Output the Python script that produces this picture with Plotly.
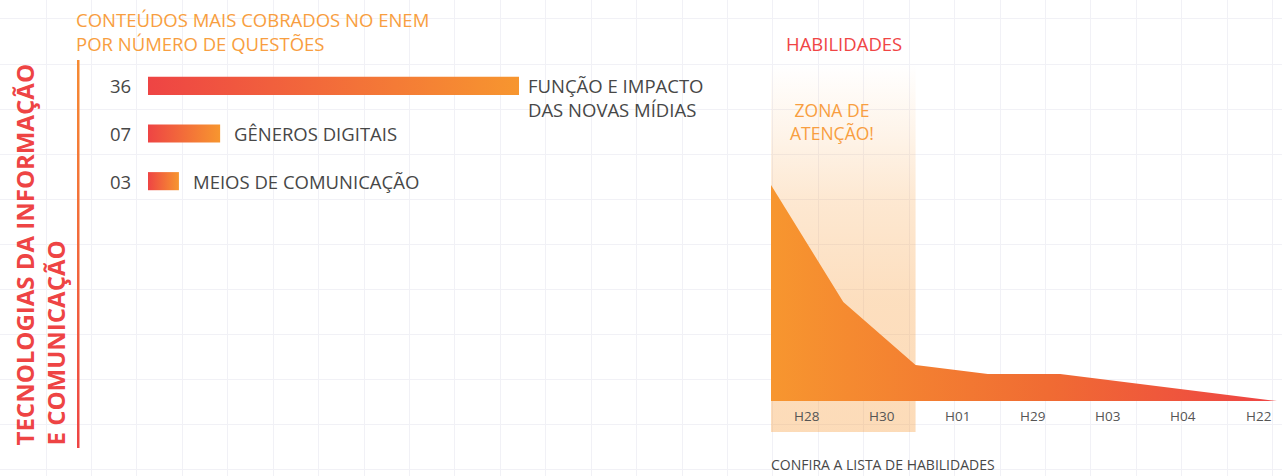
import plotly.graph_objects as go
import numpy as np

W, H = 1282, 476

# ---------------- data ----------------
conteudos = ["FUNÇÃO E IMPACTO<br>DAS NOVAS MÍDIAS", "GÊNEROS DIGITAIS", "MEIOS DE COMUNICAÇÃO"]
questoes = [36, 7, 3]
questoes_txt = ["36", "07", "03"]

habilidades = ["H28", "H30", "H01", "H29", "H03", "H04", "H22"]
perfil_habilidades = [24, 11, 4, 3, 3, 2, 1, 0]   # area profile (last point closes at zero)
zona_atencao = ["H28", "H30"]

titulo = "CONTEÚDOS MAIS COBRADOS NO ENEM<br>POR NÚMERO DE QUESTÕES"
area_titulo = "<b>TECNOLOGIAS DA INFORMAÇÃO</b><br><b>E COMUNICAÇÃO</b>"

# ---------------- style ----------------
RED = "#EE4444"
ORANGE = "#F7962F"
TXT = "#474747"
TITLE_OR = "#F89E40"
FONT = "Open Sans"

fig = go.Figure()

# ---- decorative vertical gradient rule (background pixel axis) ----
fig.add_trace(go.Scatter(
    x=[77, 79.5, 79.5, 77, 77], y=[H - 448, H - 448, H - 60, H - 60, H - 448],
    mode="lines", line=dict(width=0), fill="toself",
    fillgradient=dict(type="vertical", colorscale=[[0, RED], [1, "#F68B33"]]),
    xaxis="x", yaxis="y", hoverinfo="skip", showlegend=False))

# ---- horizontal bars with gradient (x2/y2) ----
hb = 0.19
for i, v in enumerate(questoes):
    fig.add_trace(go.Scatter(
        x=[0, v, v, 0, 0], y=[i - hb, i - hb, i + hb, i + hb, i - hb],
        mode="lines", line=dict(width=0), fill="toself",
        fillgradient=dict(type="horizontal", colorscale=[[0, RED], [1, ORANGE]]),
        xaxis="x2", yaxis="y2", hoverinfo="skip", showlegend=False))

# ---- attention zone (x3/y3) ----
y3_range = [-(432 - 401) / 9, (401 - 65) / 9]
z0 = habilidades.index(zona_atencao[0])
z1 = habilidades.index(zona_atencao[-1]) + 1
fig.add_trace(go.Scatter(
    x=[z0, z1, z1, z0, z0], y=[y3_range[0], y3_range[0], y3_range[1], y3_range[1], y3_range[0]],
    mode="lines", line=dict(width=0), fill="toself",
    fillgradient=dict(type="vertical", colorscale=[
        [0, "rgba(247,150,47,0.34)"], [0.36, "rgba(247,150,47,0.31)"],
        [0.63, "rgba(247,150,47,0.22)"], [0.82, "rgba(247,150,47,0.10)"],
        [1, "rgba(247,150,47,0.0)"]]),
    xaxis="x3", yaxis="y3", hoverinfo="skip", showlegend=False))

# ---- area chart ----
fig.add_trace(go.Scatter(
    x=list(range(len(perfil_habilidades))), y=perfil_habilidades,
    mode="lines", line=dict(width=0), fill="tozeroy",
    fillgradient=dict(type="horizontal", colorscale=[[0, ORANGE], [0.55, "#F06B33"], [1, RED]]),
    xaxis="x3", yaxis="y3", hoverinfo="skip", showlegend=False))

annotations = []
# title
annotations.append(dict(text=titulo, xref="paper", yref="paper", x=74 / W, y=1 - 32 / H,
                        xanchor="left", yanchor="middle", align="left", showarrow=False,
                        font=dict(family=FONT, size=18.5, color=TITLE_OR)))
# vertical area title
annotations.append(dict(text=area_titulo, xref="paper", yref="paper", x=39.5 / W, y=1 - 448 / H,
                        xanchor="center", yanchor="bottom", align="left", textangle=-90,
                        showarrow=False,
                        font=dict(family="Open Sans", size=24, color=RED)))
# bar numbers and labels
for i, (v, t, c) in enumerate(zip(questoes, questoes_txt, conteudos)):
    annotations.append(dict(text=t, xref="x2", yref="y2", x=0, y=i, xanchor="right",
                            yanchor="middle", xshift=-15, showarrow=False,
                            font=dict(family=FONT, size=18.5, color=TXT)))
    two = "<br>" in c
    annotations.append(dict(text=c, xref="x2", yref="y2", x=v, y=i, xanchor="left",
                            yanchor="middle", align="left", xshift=7 if two else 12,
                            yshift=-12 if two else 0, showarrow=False,
                            font=dict(family=FONT, size=18.5, color=TXT)))
# right panel texts
annotations.append(dict(text="HABILIDADES", xref="paper", yref="paper", x=844 / W, y=1 - 43 / H,
                        xanchor="center", yanchor="middle", showarrow=False,
                        font=dict(family=FONT, size=18.5, color="#F04545")))
annotations.append(dict(text="ZONA DE<br>ATENÇÃO!", xref="paper", yref="paper", x=832 / W,
                        y=1 - 122 / H, xanchor="center", yanchor="middle", align="center",
                        showarrow=False, font=dict(family=FONT, size=17.5, color=TITLE_OR)))
annotations.append(dict(text="CONFIRA A LISTA DE HABILIDADES", xref="paper", yref="paper",
                        x=769 / W, y=0, xanchor="left", yanchor="bottom",
                        showarrow=False, font=dict(family=FONT, size=14, color=TXT)))
# skill labels under the area
npts = len(perfil_habilidades)
label_pos = np.linspace(0.5, npts - 1 - 0.26, len(habilidades))
for lbl, px in zip(habilidades, label_pos):
    annotations.append(dict(text=lbl, xref="x3", yref="y3", x=px, y=-15 / 9,
                            xanchor="center", yanchor="middle", showarrow=False,
                            font=dict(family=FONT, size=13.5, color="#555555")))

noax = dict(showgrid=False, zeroline=False, showticklabels=False, showline=False, ticks="",
            fixedrange=True)
fig.update_layout(
    width=W, height=H, margin=dict(l=0, r=0, t=0, b=0),
    paper_bgcolor="white", plot_bgcolor="rgba(0,0,0,0)", hovermode=False, showlegend=False,
    xaxis=dict(domain=[0, 1], range=[0, W], showgrid=True, gridcolor="#F1F1F6", gridwidth=1,
               tick0=0.57, dtick=45.43, zeroline=False, showticklabels=False, ticks="",
               fixedrange=True),
    yaxis=dict(domain=[0, 1], range=[0, H], showgrid=True, gridcolor="#F1F1F6", gridwidth=1,
               tick0=(H - 18.9) % 45.1, dtick=45.1, zeroline=False, showticklabels=False,
               ticks="", fixedrange=True),
    xaxis2=dict(domain=[148 / W, 519 / W], range=[0, 36], anchor="y2", **noax),
    yaxis2=dict(domain=[1 - 205 / H, 1 - 62 / H], range=[2.5, -0.5], anchor="x2", **noax),
    xaxis3=dict(domain=[771 / W, 1277 / W], range=[0, npts - 1], anchor="y3", **noax),
    yaxis3=dict(domain=[1 - 432 / H, 1 - 65 / H], range=y3_range, anchor="x3", **noax),
    annotations=annotations,
)

fig.write_html("out.html", config={"displayModeBar": False, "staticPlot": True},
               post_script="document.body.style.margin='0';document.body.style.overflow='hidden';")
